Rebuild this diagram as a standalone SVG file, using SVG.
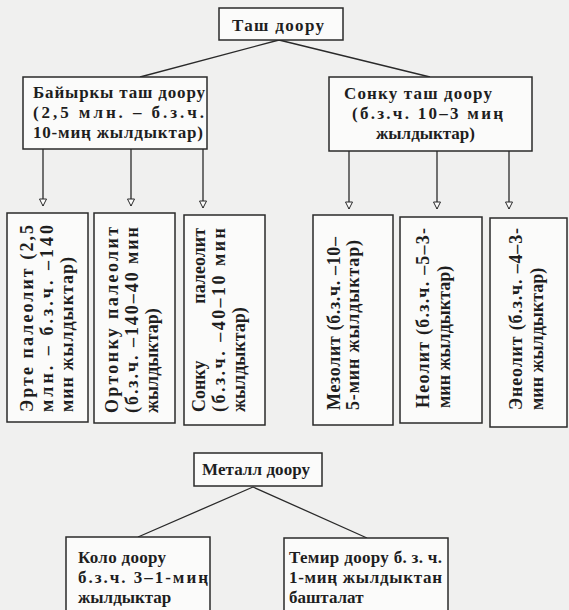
<svg xmlns="http://www.w3.org/2000/svg" width="569" height="610" viewBox="0 0 569 610">
<style>
.bx{fill:#fbfbfa;stroke:#2a2a2a;stroke-width:1.5}
.ln{fill:none;stroke:#2a2a2a;stroke-width:1.3}
text{font-family:"Liberation Serif","DejaVu Serif",serif;font-size:17px;font-weight:bold;fill:#1e1e1e}
.v{font-size:18px}
</style>
<defs>
<marker id="ah" markerUnits="userSpaceOnUse" markerWidth="10" markerHeight="10" refX="7" refY="3.5" orient="auto" viewBox="-1 -1 10 9">
<path d="M0,0 L7,3.5 L0,7 Z" fill="#fbfbfa" stroke="#2a2a2a" stroke-width="1"/>
</marker>
</defs>
<rect width="569" height="610" fill="#f0f0ef"/>
<g id="connectors">
<path class="ln" d="M279,40 L140,77 M279,40 L430,77"/>
<line class="ln" x1="43" y1="149" x2="43" y2="206" marker-end="url(#ah)"/>
<line class="ln" x1="131" y1="149" x2="131" y2="206" marker-end="url(#ah)"/>
<line class="ln" x1="203" y1="149" x2="203" y2="208" marker-end="url(#ah)"/>
<line class="ln" x1="349" y1="151" x2="349" y2="209" marker-end="url(#ah)"/>
<line class="ln" x1="437" y1="151" x2="437" y2="209" marker-end="url(#ah)"/>
<line class="ln" x1="509" y1="151" x2="509" y2="209" marker-end="url(#ah)"/>
<path class="ln" d="M253,487 L138,537 M253,487 L367,538"/>
</g>
<g id="tash">
<rect class="bx" x="219" y="8" width="124" height="32"/>
<text x="232" y="31" textLength="92">Таш доору</text>
</g>
<g id="baiyrky">
<rect class="bx" x="23" y="77" width="184" height="72"/>
<text x="33" y="98" textLength="172">Байыркы таш доору</text>
<text x="33" y="118" textLength="171">(2,5 млн. – б.з.ч.</text>
<text x="33" y="138" textLength="170">10-миң жылдыктар)</text>
</g>
<g id="sonku">
<rect class="bx" x="329" y="77" width="203" height="74"/>
<text x="344" y="99" textLength="148">Сонку таш доору</text>
<text x="352" y="119" textLength="151">(б.з.ч. 10–3 миң</text>
<text x="376" y="139">жылдыктар)</text>
</g>
<g id="erte">
<rect class="bx" x="7" y="213" width="81" height="209"/>
<text class="v" transform="translate(33,412) rotate(-90)" textLength="187">Эрте палеолит (2,5</text>
<text class="v" transform="translate(53,412) rotate(-90)" textLength="187">млн. – б.з.ч. –140</text>
<text class="v" transform="translate(73,412) rotate(-90)" textLength="155">мин жылдыктар)</text>
</g>
<g id="ortonku">
<rect class="bx" x="94" y="213" width="81" height="210"/>
<text class="v" transform="translate(118,413) rotate(-90)" textLength="186">Ортонку палеолит</text>
<text class="v" transform="translate(138,413) rotate(-90)" textLength="186">(б.з.ч. –140–40 мин</text>
<text class="v" transform="translate(158,413) rotate(-90)">жылдыктар)</text>
</g>
<g id="sonku-paleolit">
<rect class="bx" x="184" y="215" width="81" height="210"/>
<text class="v" transform="translate(205,412) rotate(-90)">Сонку</text>
<text class="v" transform="translate(205,228) rotate(-90)" text-anchor="end">палеолит</text>
<text class="v" transform="translate(225,412) rotate(-90)" textLength="184">(б.з.ч. –40–10 мин</text>
<text class="v" transform="translate(245,412) rotate(-90)">жылдыктар)</text>
</g>
<g id="mezolit">
<rect class="bx" x="313" y="215" width="80" height="210"/>
<text class="v" transform="translate(340,410) rotate(-90)" textLength="173">Мезолит (б.з.ч. –10–</text>
<text class="v" transform="translate(359,410) rotate(-90)" textLength="170">5-мин жылдыктар)</text>
</g>
<g id="neolit">
<rect class="bx" x="400" y="217" width="82" height="206"/>
<text class="v" transform="translate(429,408) rotate(-90)" textLength="180">Неолит (б.з.ч. –5–3-</text>
<text class="v" transform="translate(450,408) rotate(-90)">мин жылдыктар)</text>
</g>
<g id="eneolit">
<rect class="bx" x="490" y="218" width="77" height="209"/>
<text class="v" transform="translate(522,410) rotate(-90)" textLength="182">Энеолит (б.з.ч. –4–3-</text>
<text class="v" transform="translate(543,410) rotate(-90)">мин жылдыктар)</text>
</g>
<g id="metall">
<rect class="bx" x="194" y="453" width="128" height="33"/>
<text x="202" y="475" textLength="108">Металл доору</text>
</g>
<g id="kolo">
<rect class="bx" x="66" y="537" width="144" height="80"/>
<text x="78" y="563" textLength="88">Коло доору</text>
<text x="78" y="583" textLength="130">б.з.ч. 3–1-миң</text>
<text x="78" y="603">жылдыктар</text>
</g>
<g id="temir">
<rect class="bx" x="284" y="538" width="164" height="80"/>
<text x="289" y="563" textLength="153">Темир доору б. з. ч.</text>
<text x="289" y="583" textLength="153">1-миң жылдыктан</text>
<text x="289" y="603">башталат</text>
</g>
</svg>
